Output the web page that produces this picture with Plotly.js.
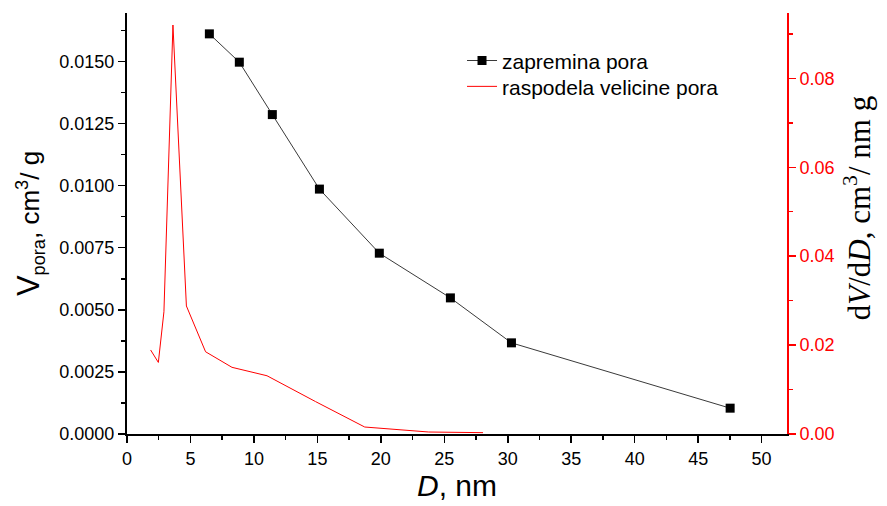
<!DOCTYPE html>
<html><head><meta charset="utf-8">
<script src="https://cdn.plot.ly/plotly-3.0.1.min.js"></script>
<style>body{margin:0;background:#fff}#c{width:887px;height:506px}</style>
</head><body><div id="c"></div>
<script>
// zapremina pora (pore volume), left axis
const volD = [6.49, 8.85, 11.45, 15.16, 19.88, 25.48, 30.29, 47.52];
const volV = [0.01611, 0.01497, 0.01286, 0.00986, 0.00728, 0.00548, 0.00367, 0.00104];
// raspodela velicine pora (pore size distribution), right axis
const distD = [1.86, 2.47, 2.91, 3.62, 4.68, 6.19, 8.27, 11.03, 14.85, 18.73, 23.77, 28.05];
const distV = [0.0189, 0.0161, 0.0275, 0.0920, 0.0288, 0.0185, 0.0150, 0.0131, 0.0073, 0.00157, 0.00045, 0.0003];

const xTicks = [0, 5, 10, 15, 20, 25, 30, 35, 40, 45, 50];
const leftTicks = [0, 0.0025, 0.005, 0.0075, 0.01, 0.0125, 0.015];
const leftTickText = ['0.0000','0.0025','0.0050','0.0075','0.0100','0.0125','0.0150'];
const rightTicks = [0, 0.02, 0.04, 0.06, 0.08];
const rightTickText = ['0.00','0.02','0.04','0.06','0.08'];

const traces = [
  {x: volD, y: volV, name: 'zapremina pora', type: 'scatter', mode: 'lines+markers', legend: 'legend',
   line: {color: '#3a3a3a', width: 1}, marker: {symbol: 'square', size: 9, color: '#000'}},
  {x: distD, y: distV, name: 'raspodela velicine pora', type: 'scatter', mode: 'lines', legend: 'legend2',
   yaxis: 'y2', line: {color: '#ff0000', width: 1}}
];

const legendStyle = {xanchor: 'left', yanchor: 'top', bgcolor: 'rgba(0,0,0,0)',
                     font: {size: 21, color: '#000'}, itemwidth: 30};

const layout = {
  width: 887, height: 506,
  margin: {l: 127, r: 100, t: 13, b: 72},
  paper_bgcolor: '#fff', plot_bgcolor: '#fff',
  font: {family: 'Liberation Sans, Arial, sans-serif', size: 18, color: '#000'},
  showlegend: true,
  legend: Object.assign({x: 0.5076, y: 0.935}, legendStyle),
  legend2: Object.assign({x: 0.5076, y: 0.8736}, legendStyle),
  xaxis: {range: [0, 52], tickvals: xTicks, showgrid: false, zeroline: false,
          showline: true, linecolor: '#000', linewidth: 2, ticks: 'outside', ticklen: 7, tickwidth: 1.5,
          tickcolor: '#000', tickfont: {size: 18},
          minor: {dtick: 2.5, tick0: 0, ticks: 'outside', ticklen: 4, tickwidth: 1.5, tickcolor: '#000', showgrid: false},
          title: {text: '<i>D</i>, nm', font: {size: 30}, standoff: 6}},
  yaxis: {range: [0, 0.01695], tickvals: leftTicks, ticktext: leftTickText, showgrid: false, zeroline: false,
          showline: true, linecolor: '#000', linewidth: 2, ticks: 'outside', ticklen: 7, tickwidth: 1.5,
          tickcolor: '#000', tickfont: {size: 18},
          minor: {dtick: 0.00125, tick0: 0, ticks: 'outside', ticklen: 4, tickwidth: 1.5, tickcolor: '#000', showgrid: false},
          title: {text: '<span style="font-size:31px">V</span><sub>pora</sub>, cm<sup>3</sup>/ g', font: {size: 26}, standoff: 12}},
  yaxis2: {range: [0, 0.0947], overlaying: 'y', side: 'right', tickvals: rightTicks, ticktext: rightTickText,
           showgrid: false, zeroline: false, showline: true, linecolor: '#ff0000', linewidth: 2,
           ticks: 'outside', ticklen: 7, tickwidth: 1.5, tickcolor: '#ff0000',
           tickfont: {size: 18, color: '#ff0000'},
           minor: {dtick: 0.01, tick0: 0, ticks: 'outside', ticklen: 4, tickwidth: 1.5, tickcolor: '#ff0000', showgrid: false},
           title: {text: '&nbsp;&nbsp;&nbsp;&nbsp;d<i>V</i>/d<i>D</i>, cm<sup>3</sup>/ nm g',
                   font: {size: 31, family: 'Liberation Serif, Times New Roman, serif', color: '#000'}, standoff: 15}}
};

Plotly.newPlot('c', traces, layout, {displayModeBar: false, staticPlot: true});
</script>
</body></html>
